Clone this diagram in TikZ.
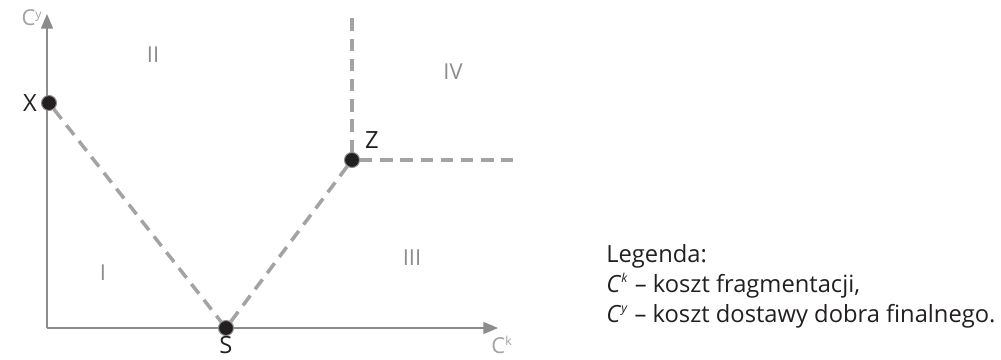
\documentclass[tikz,border=0pt]{standalone}
\usepackage{fontspec}
\setmainfont{Open Sans}
\usepackage{tikz}
\usetikzlibrary{arrows}

\definecolor{axisgray}{HTML}{8C8C8C}
\definecolor{dashgray}{HTML}{A3A3A3}
\definecolor{dotblack}{HTML}{231F20}

\begin{document}
\begin{tikzpicture}[x=0.02cm, y=-0.02cm, >=triangle 45,
    axis/.style={->, draw=axisgray, line width=0.9pt},
    border/.style={draw=dashgray, line width=2pt, dash pattern=on 7pt off 4.5pt},
    point/.style={circle, fill=dotblack, draw=axisgray, line width=0.6pt,
                  inner sep=0pt, minimum size=0.3cm},
    region/.style={text=axisgray, font=\fontsize{12.5}{15}\selectfont},
    lbl/.style={text=dotblack, font=\fontsize{13.5}{16}\selectfont},
    axlbl/.style={text=axisgray!80, font=\fontsize{12.5}{15}\selectfont},
    legline/.style={text=dotblack, anchor=base west, inner sep=0pt,
                    font=\fontsize{13.5}{16}\selectfont}]
    \useasboundingbox (0,0) rectangle (1001,359);
    % axes
    \coordinate (origin) at (47,328);
    \coordinate (ytip) at (47,14);
    \coordinate (xtip) at (498,328);
    \draw[axis] (origin) -- (ytip);
    \draw[axis] (origin) -- (xtip);
    % points
    \node[point] (X) at (49,103) {};
    \node[point] (S) at (226,328) {};
    \node[point] (Z) at (352,160) {};
    \coordinate (zup) at (352,14);
    \coordinate (zright) at (513,160);
    % borders
    \draw[border] (X) -- (S);
    \draw[border] (S) -- (Z);
    \draw[border] (Z) -- (zup);
    \draw[border] (Z) -- (zright);
    % labels
    \node[lbl] (xl) at (30,103) {X};
    \node[lbl] (sl) at (226,345) {S};
    \node[lbl] (zl) at (372,140) {Z};
    \node[axlbl] (cy) at (32,18) {C\textsuperscript{\scriptsize y}};
    \node[axlbl] (ck) at (502,345) {C\textsuperscript{\scriptsize k}};
    \node[region] (r1) at (103,273) {I};
    \node[region] (r2) at (153,55) {II};
    \node[region] (r3) at (412,258) {III};
    \node[region] (r4) at (453,72) {IV};
    % legend
    \node[legline] (leg1) at (606,262) {Legenda:};
    \node[legline] (leg2) at (606,292) {\textit{C}\textsuperscript{\textit{\scriptsize k}} – koszt fragmentacji,};
    \node[legline] (leg3) at (606,322) {\textit{C}\textsuperscript{\textit{\scriptsize y}} – koszt dostawy dobra finalnego.};
\end{tikzpicture}
\end{document}
